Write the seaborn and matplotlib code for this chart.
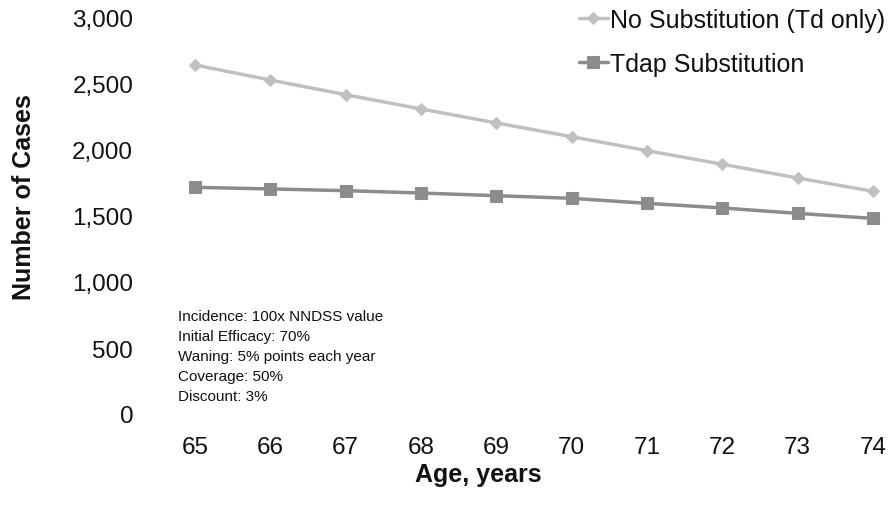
import matplotlib
matplotlib.use("Agg")
import matplotlib.pyplot as plt
import seaborn as sns
import pandas as pd

# Data
ages = [65, 66, 67, 68, 69, 70, 71, 72, 73, 74]
no_substitution = [2644, 2530, 2419, 2311, 2205, 2101, 1995, 1892, 1788, 1687]
tdap_substitution = [1717, 1705, 1692, 1674, 1654, 1634, 1596, 1561, 1520, 1482]
series_names = ["No Substitution (Td only)", "Tdap Substitution"]
y_ticks = [0, 500, 1000, 1500, 2000, 2500, 3000]
note_lines = [
    "Incidence: 100x NNDSS value",
    "Initial Efficacy: 70%",
    "Waning: 5% points each year",
    "Coverage: 50%",
    "Discount: 3%",
]

df = pd.DataFrame({
    "age": ages * 2,
    "cases": no_substitution + tdap_substitution,
    "scenario": [series_names[0]] * len(ages) + [series_names[1]] * len(ages),
})

sns.set_style("white")
plt.rcParams["font.family"] = ["Liberation Sans", "DejaVu Sans"]

W, H = 894, 510
fig = plt.figure(figsize=(W / 100, H / 100), dpi=100)
ax = fig.add_axes([195 / W, 95 / H, (873 - 195) / W, (491 - 95) / H])

palette = {series_names[0]: "#c0c0c0", series_names[1]: "#8c8c8c"}
markers = {series_names[0]: "D", series_names[1]: "s"}
sizes = {series_names[0]: 6, series_names[1]: 8}

for name in series_names:
    sub = df[df["scenario"] == name]
    sns.lineplot(data=sub, x="age", y="cases", ax=ax, color=palette[name],
                 marker=markers[name], markersize=sizes[name], linewidth=2.5,
                 markeredgecolor=palette[name], label=name, clip_on=False)

ax.set_xlim(65, 74)
ax.set_ylim(0, 3000)
ax.set_xticks(ages)
ax.set_yticks(y_ticks)
ax.set_yticklabels([f"{v:,}" for v in y_ticks])
ax.tick_params(axis="both", labelsize=17.5, length=0, colors="#111111")
ax.tick_params(axis="x", pad=16)
ax.tick_params(axis="y", pad=44.5)
for s in ax.spines.values():
    s.set_visible(False)
ax.grid(False)

ax.set_xlabel("Age, years", fontsize=18, fontweight="bold", color="#111111")
ax.set_ylabel("Number of Cases", fontsize=18, fontweight="bold", color="#111111")
ax.xaxis.set_label_coords((478 - 195) / 678, -(463 - 415) / 396)
ax.yaxis.set_label_coords((36 - 195) / 678, (415 - 197) / 396)

leg = ax.legend(loc="upper left", bbox_to_anchor=(579 / W, 501 / H),
                bbox_transform=fig.transFigure, frameon=False,
                fontsize=18, handlelength=1.15, handletextpad=0.1,
                labelspacing=0.8, borderaxespad=0, borderpad=0)
for t in leg.get_texts():
    t.set_color("#111111")

fig.text(178 / W, (510 - 310) / H, "\n".join(note_lines), fontsize=11,
         va="top", ha="left", linespacing=1.55, color="#111111")

fig.savefig("out.png", dpi=100)
